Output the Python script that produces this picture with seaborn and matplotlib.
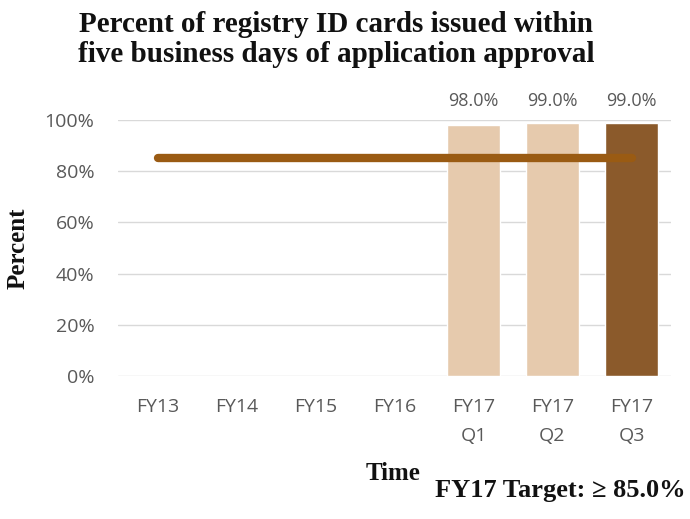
import numpy as np
import pandas as pd
import matplotlib
matplotlib.use("Agg")
import matplotlib.pyplot as plt
import seaborn as sns

categories = ["FY13", "FY14", "FY15", "FY16", "FY17\nQ1", "FY17\nQ2", "FY17\nQ3"]
values = [np.nan, np.nan, np.nan, np.nan, 98.0, 99.0, 99.0]
bar_labels = ["", "", "", "", "98.0%", "99.0%", "99.0%"]
target = 85.0
yticks = [0, 20, 40, 60, 80, 100]
ytick_labels = ["0%", "20%", "40%", "60%", "80%", "100%"]

sns.set_theme(style="white")
plt.rcParams["font.family"] = ["Open Sans", "DejaVu Sans"]

light = "#E6CAAD"
dark = "#8B5A2B"
colors = {c: light for c in categories}
colors[categories[-1]] = dark

df = pd.DataFrame({"cat": categories, "val": values})

W, H = 690, 519
fig = plt.figure(figsize=(6.9, 5.19), dpi=100)
ax = fig.add_axes([118 / W, 1 - 376 / H, 553 / W, 256 / H])

sns.barplot(data=df, x="cat", y="val", hue="cat", order=categories,
            hue_order=categories, palette=colors, legend=False,
            width=0.66, saturation=1, ax=ax, zorder=2)

# target line
ax.plot([0, 6], [target, target], color="#9A5B13", lw=6,
        solid_capstyle="round", zorder=3)

# bar labels
for i, (v, lab) in enumerate(zip(values, bar_labels)):
    if lab:
        ax.text(i, 105.6, lab, ha="center", va="baseline", fontsize=13,
                color="#595959")

ax.set_ylim(0, 100)
ax.set_xlim(-0.5, 6.5)
ax.set_yticks(yticks)
ax.set_yticklabels(ytick_labels, fontsize=14, color="#595959")
ax.set_xticks(range(len(categories)))
ax.set_xticklabels(categories, fontsize=14, color="#595959", linespacing=1.75)
ax.tick_params(axis="both", length=0)
ax.tick_params(axis="y", pad=17)
ax.tick_params(axis="x", pad=16)
ax.yaxis.grid(True, color="#D9D9D9", lw=1)
ax.set_axisbelow(True)
for s in ax.spines.values():
    s.set_visible(False)

ax.set_xlabel("Time", fontsize=18, fontweight="bold",
              family="Liberation Serif", color="#111111")
ax.xaxis.label.set_va("baseline")
ax.xaxis.set_label_coords(0.497, (376 - 480) / 256)
ax.set_ylabel("Percent", fontsize=18, fontweight="bold",
              family="Liberation Serif", color="#111111")
ax.yaxis.label.set_va("center")
ax.yaxis.set_label_coords((18 - 118) / 553, 0.5)

fig.text(336 / W, 1 - 32 / H, "Percent of registry ID cards issued within",
         ha="center", va="baseline", fontsize=21, fontweight="bold",
         family="Liberation Serif", color="#111111")
fig.text(336 / W, 1 - 62 / H, "five business days of application approval",
         ha="center", va="baseline", fontsize=21, fontweight="bold",
         family="Liberation Serif", color="#111111")
fig.text(686 / W, 1 - 497 / H, "FY17 Target: \u2265 85.0%", ha="right",
         va="baseline", fontsize=19, fontweight="bold",
         family="Liberation Serif", color="#111111")

fig.savefig("out.png", dpi=100)
